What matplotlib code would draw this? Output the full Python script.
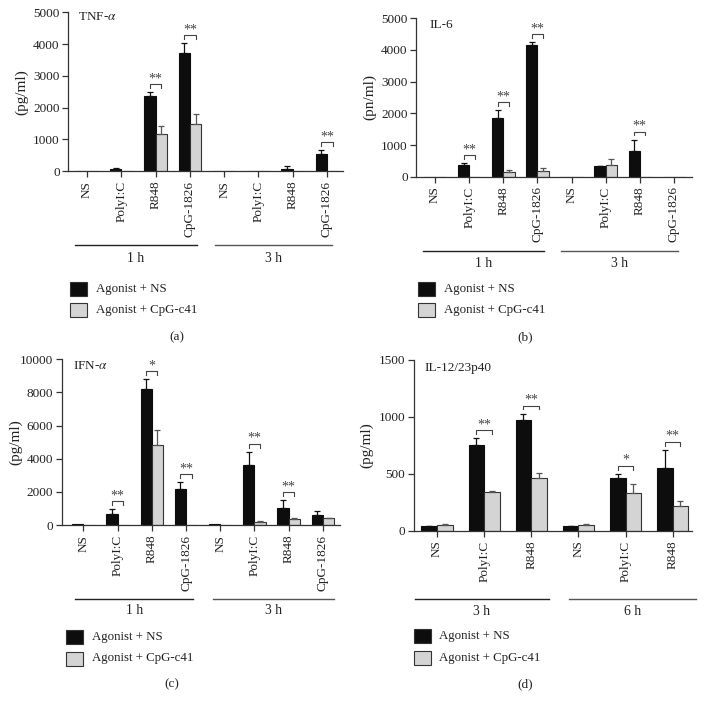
import matplotlib
matplotlib.use("Agg")
import matplotlib.pyplot as plt
import matplotlib.transforms as mtransforms
from matplotlib.patches import Rectangle
import numpy as np

plt.rcParams['font.family'] = ['Liberation Serif', 'DejaVu Serif']
plt.rcParams['mathtext.fontset'] = 'stix'

# ---------------- data ----------------
cats_8 = ['NS', 'PolyI:C', 'R848', 'CpG-1826', 'NS', 'PolyI:C', 'R848', 'CpG-1826']
cats_6 = ['NS', 'PolyI:C', 'R848', 'NS', 'PolyI:C', 'R848']
legend_labels = ['Agonist + NS', 'Agonist + CpG-c41']

# (a) TNF-alpha
tnf_ns = [0, 60, 2370, 3720, 0, 0, 75, 525]
tnf_ns_err = [0, 40, 105, 305, 0, 0, 70, 125]
tnf_c41 = [0, 0, 1170, 1470, 0, 0, 0, 0]
tnf_c41_err = [0, 0, 260, 335, 0, 0, 0, 0]
tnf_sig = [(2, '**'), (3, '**'), (7, '**')]
tnf_groups = ['1 h', '3 h']

# (b) IL-6
il6_ns = [0, 358, 1840, 4160, 0, 326, 810, 0]
il6_ns_err = [0, 70, 250, 85, 0, 15, 350, 0]
il6_c41 = [0, 0, 137, 190, 0, 380, 0, 0]
il6_c41_err = [0, 0, 75, 85, 0, 170, 0, 0]
il6_sig = [(1, '**'), (2, '**'), (3, '**'), (6, '**')]
il6_groups = ['1 h', '3 h']

# (c) IFN-alpha
ifn_ns = [40, 664, 8190, 2170, 40, 3640, 1030, 600]
ifn_ns_err = [0, 280, 600, 400, 0, 765, 460, 220]
ifn_c41 = [30, 20, 4830, 20, 30, 180, 340, 420]
ifn_c41_err = [0, 0, 885, 0, 0, 60, 80, 30]
ifn_sig = [(1, '**'), (2, '*'), (3, '**'), (5, '**'), (6, '**')]
ifn_groups = ['1 h', '3 h']

# (d) IL-12/23p40
il12_ns = [38, 753, 975, 38, 463, 548]
il12_ns_err = [6, 58, 53, 6, 35, 161]
il12_c41 = [47, 337, 460, 47, 334, 217]
il12_c41_err = [12, 15, 44, 12, 73, 41]
il12_sig = [(1, '**'), (2, '**'), (4, '*'), (5, '**')]
il12_groups = ['3 h', '6 h']

# ---------------- figure ----------------
W, H = 705, 710
fig = plt.figure(figsize=(W / 100, H / 100), dpi=100)


def fx(x):
    return x / W


def fy(y):
    return 1 - y / H


TXT = '#222222'
FS = 9.5


def panel(box, xlim, ylim, yticks, cats, ns, ns_err, c41, c41_err, sig,
          title, title_xy, ylabel, ylabel_x, groups, grp_spans, grp_y, grp_lbl_y,
          leg_x, leg_y, txt_x, letter, letter_xy):
    left, top, right, bottom = box
    ax = fig.add_axes([fx(left), fy(bottom), fx(right) - fx(left), (bottom - top) / H])
    x = np.arange(len(cats))
    w = 0.33
    ax.bar(x - w / 2, ns, w, color='#0d0d0d', edgecolor='#0d0d0d', linewidth=0.8, zorder=2)
    ax.bar(x + w / 2, c41, w, color='#d4d4d4', edgecolor='#333333', linewidth=0.8, zorder=2)
    ns_a = np.array(ns, float)
    c41_a = np.array(c41, float)
    ne = np.array(ns_err, float)
    ce = np.array(c41_err, float)
    m = ne > 0
    ax.errorbar((x - w / 2)[m], ns_a[m], yerr=[np.zeros(m.sum()), ne[m]], fmt='none',
                ecolor='#111111', elinewidth=0.9, capsize=2.5, capthick=0.9, zorder=3)
    m2 = ce > 0
    ax.errorbar((x + w / 2)[m2], c41_a[m2], yerr=[np.zeros(m2.sum()), ce[m2]], fmt='none',
                ecolor='#555555', elinewidth=0.9, capsize=2.5, capthick=0.9, zorder=3)
    ax.set_xlim(*xlim)
    ax.set_ylim(0, ylim)
    ax.set_yticks(yticks)
    ax.set_xticks(x)
    ax.set_xticklabels(cats, rotation=90, fontsize=FS, color=TXT)
    ax.tick_params(axis='y', labelsize=FS, labelcolor=TXT, length=4, width=0.9,
                   color='#333333', pad=2)
    ax.tick_params(axis='x', length=4, width=0.9, color='#333333', pad=3)
    for s in ['top', 'right']:
        ax.spines[s].set_visible(False)
    for s in ['left', 'bottom']:
        ax.spines[s].set_color('#333333')
        ax.spines[s].set_linewidth(0.9)
    # significance brackets
    ax_h_px = bottom - top
    per_px = ylim / ax_h_px
    for idx, star in sig:
        topv = max(ns_a[idx] + ne[idx], c41_a[idx] + ce[idx])
        yb = topv + 8 * per_px
        tick = 3.5 * per_px
        ax.plot([x[idx] - w / 2, x[idx] - w / 2, x[idx] + w / 2, x[idx] + w / 2],
                [yb - tick, yb, yb, yb - tick], color='#444444', lw=0.8,
                clip_on=False, zorder=4)
        ax.text(x[idx], yb - 1.0 * per_px, star, ha='center', va='bottom',
                fontsize=FS + 0.5, color='#444444')
    # title and ylabel
    fig.text(fx(title_xy[0]), fy(title_xy[1]), title, ha='left', va='center',
             fontsize=FS, color=TXT)
    fig.text(fx(ylabel_x), fy((top + bottom) / 2), ylabel, rotation=90, ha='center',
             va='center', fontsize=FS + 1.5, color=TXT)
    # group lines
    tr = mtransforms.blended_transform_factory(ax.transData, fig.transFigure)
    colors = ['#222222', '#555555']
    for (g, (a, b)), c in zip(zip(groups, grp_spans), colors):
        ax.plot([a, b], [fy(grp_y), fy(grp_y)], color=c, lw=1.0, transform=tr,
                clip_on=False)
        ax.text((a + b) / 2, fy(grp_lbl_y), g, transform=tr, ha='center', va='center',
                fontsize=FS + 0.3, color=TXT)
    # legend
    sq_w = 17
    sq_h = 14
    fills = ['#0d0d0d', '#d4d4d4']
    for i, (lab, fc) in enumerate(zip(legend_labels, fills)):
        y0 = leg_y + i * 21.5
        fig.patches.append(Rectangle((fx(leg_x), fy(y0 + sq_h)), sq_w / W, sq_h / H,
                                     transform=fig.transFigure, facecolor=fc,
                                     edgecolor='#333333', linewidth=0.8))
        fig.text(fx(txt_x), fy(y0 + sq_h / 2), lab, ha='left', va='center',
                 fontsize=9.3, color=TXT)
    fig.text(fx(letter_xy[0]), fy(letter_xy[1]), letter, ha='center', va='center',
             fontsize=FS, color=TXT)
    return ax


# (a)
panel(box=(68, 12.3, 343, 171), xlim=(-0.554, 7.467), ylim=5000,
      yticks=[0, 1000, 2000, 3000, 4000, 5000], cats=cats_8,
      ns=tnf_ns, ns_err=tnf_ns_err, c41=tnf_c41, c41_err=tnf_c41_err, sig=tnf_sig,
      title='TNF-$\\alpha$', title_xy=(78, 17), ylabel='(pg/ml)', ylabel_x=22,
      groups=tnf_groups, grp_spans=[(-0.35, 3.21), (3.73, 7.15)], grp_y=245,
      grp_lbl_y=258, leg_x=70, leg_y=282, txt_x=96, letter='(a)', letter_xy=(177, 337))

# (b)
panel(box=(416, 18.3, 692, 176.7), xlim=(-0.557, 7.53), ylim=5000,
      yticks=[0, 1000, 2000, 3000, 4000, 5000], cats=cats_8,
      ns=il6_ns, ns_err=il6_ns_err, c41=il6_c41, c41_err=il6_c41_err, sig=il6_sig,
      title='IL-6', title_xy=(429, 25), ylabel='(pn/ml)', ylabel_x=370,
      groups=il6_groups, grp_spans=[(-0.36, 3.18), (3.70, 7.12)], grp_y=250.7,
      grp_lbl_y=264, leg_x=418, leg_y=282, txt_x=444, letter='(b)', letter_xy=(525, 337))

# (c)
panel(box=(61.7, 359.3, 340, 525), xlim=(-0.633, 7.5), ylim=10000,
      yticks=[0, 2000, 4000, 6000, 8000, 10000], cats=cats_8,
      ns=ifn_ns, ns_err=ifn_ns_err, c41=ifn_c41, c41_err=ifn_c41_err, sig=ifn_sig,
      title='IFN-$\\alpha$', title_xy=(73, 366), ylabel='(pg/ml)', ylabel_x=16,
      groups=ifn_groups, grp_spans=[(-0.23, 3.2), (3.79, 7.33)], grp_y=598.7,
      grp_lbl_y=611, leg_x=66, leg_y=630, txt_x=92, letter='(c)', letter_xy=(172, 684))

# (d)
panel(box=(413.7, 360, 692, 530.7), xlim=(-0.494, 5.41), ylim=1500,
      yticks=[0, 500, 1000, 1500], cats=cats_6,
      ns=il12_ns, ns_err=il12_ns_err, c41=il12_c41, c41_err=il12_c41_err, sig=il12_sig,
      title='IL-12/23p40', title_xy=(424, 368), ylabel='(pg/ml)', ylabel_x=367,
      groups=il12_groups, grp_spans=[(-0.46, 2.37), (2.81, 5.49)], grp_y=599.3,
      grp_lbl_y=611.7, leg_x=414, leg_y=629.3, txt_x=439, letter='(d)', letter_xy=(525, 684))

fig.savefig('out.png', dpi=100, facecolor='white')
